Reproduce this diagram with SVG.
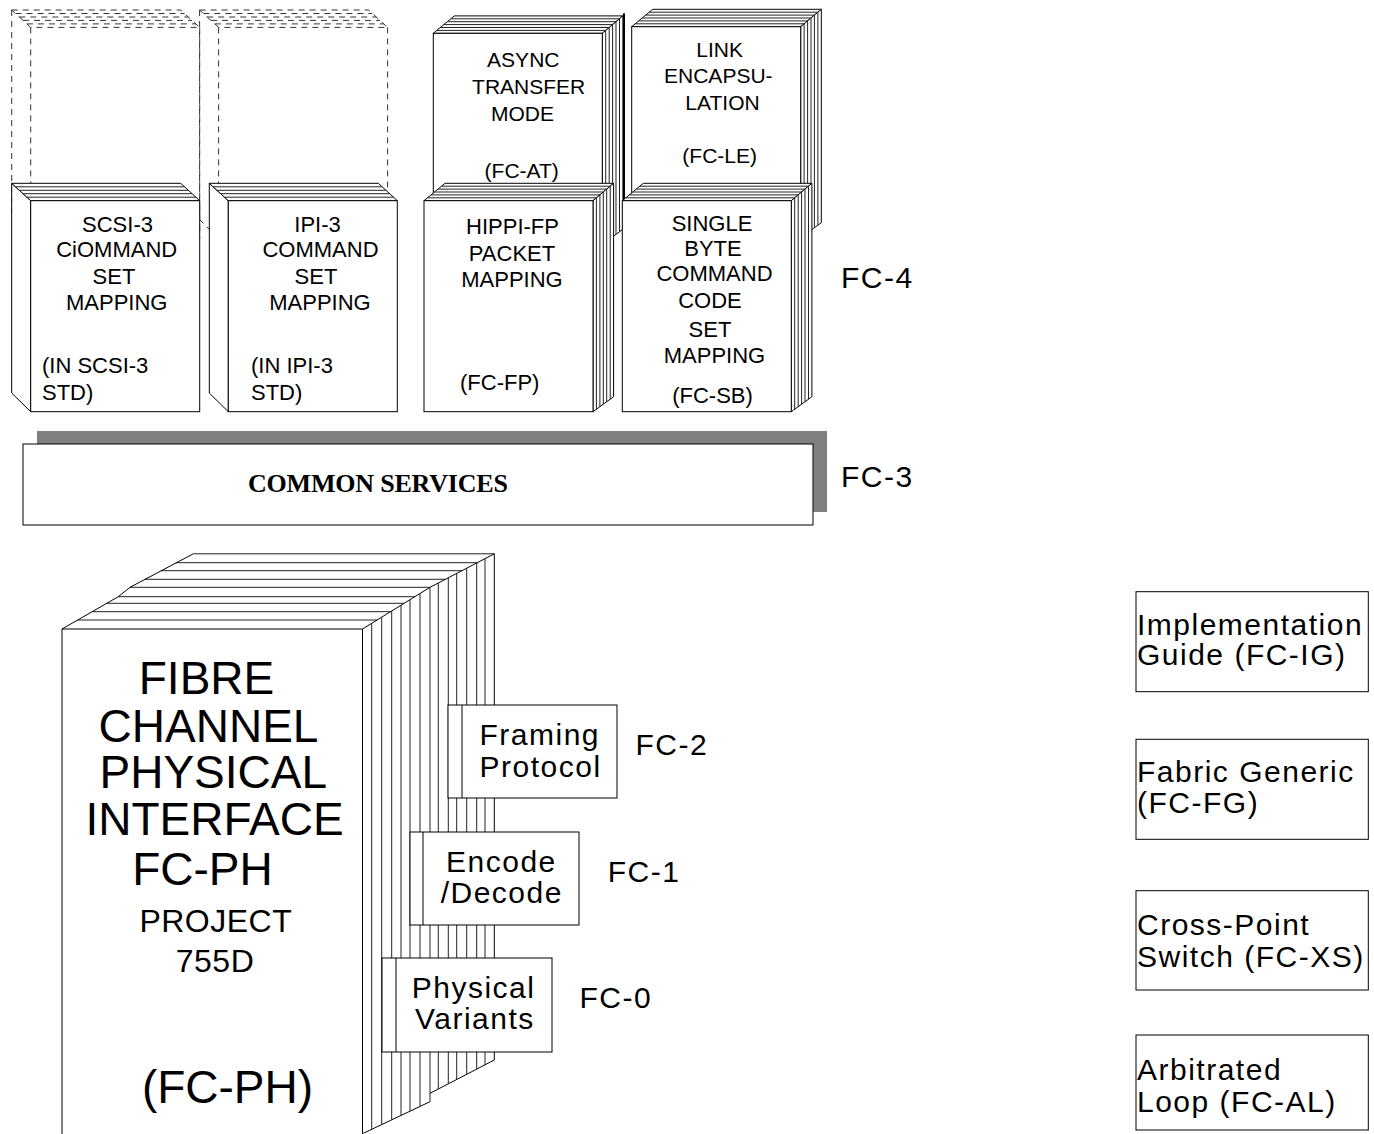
<svg xmlns="http://www.w3.org/2000/svg" xmlns:xlink="http://www.w3.org/1999/xlink" width="1374" height="1134" viewBox="0 0 1374 1134">
<style>
.edge{fill:#fff;stroke:#000;stroke-width:1}
.pg{fill:none;stroke:#222;stroke-width:1}
.ghost{fill:none;stroke:#333;stroke-width:1;stroke-dasharray:6 5}
.t{font-family:"Liberation Sans",Arial,sans-serif;fill:#000}
.sm{font-size:22px}
.up{font-size:21px}
.mid{text-anchor:middle}
.lab{font-size:30px;letter-spacing:1.5px}
.big{font-size:46px;text-anchor:middle}
.proj{font-size:32px;text-anchor:middle;letter-spacing:0.5px}
.box{fill:#fff;stroke:#000;stroke-width:1}
</style>
<defs>
  <g id="bookR">
    <polygon class="edge" points="0,0 21,-17.4 189.6,-17.4 169,0"/>
    <polygon class="edge" points="169,0 189.6,-17.4 189.6,196 169,211"/>
    <rect class="edge" x="0" y="0" width="169" height="211"/>
    <path class="pg" d="M172.4,-2.9V208.5M175.9,-5.8V206M179.3,-8.7V203.5M182.7,-11.6V201M186.2,-14.5V198.5M3.5,-2.9H172.4M7,-5.8H175.9M10.5,-8.7H179.3M14,-11.6H182.7M17.5,-14.5H186.2"/>
  </g>
  <g id="bookL">
    <polygon class="edge" points="-19,-17.4 0,0 0,211 -19,192.3"/>
    <polygon class="edge" points="-19,-17.4 150,-17.4 169,0 0,0"/>
    <rect class="edge" x="0" y="0" width="169" height="211"/>
    <path class="pg" d="M-15.2,-13.9H153.8M-11.4,-10.4H157.6M-7.6,-7H161.4M-3.8,-3.5H165.2"/>
  </g>
  <g id="ghostL">
    <path class="ghost" d="M-19,-17.4V192.3L0,211M0,0V211M169,0V211M-19,-17.4H150L169,0H0L-19,-17.4"/>
    <path class="ghost" d="M-15.2,-13.9H153.8M-11.4,-10.4H157.6M-7.6,-7H161.4M-3.8,-3.5H165.2"/>
  </g>
</defs>

<g id="connectors"/>

<g id="ghost-scsi"><use xlink:href="#ghostL" x="30.7" y="27.4"/></g>
<g id="ghost-ipi"><use xlink:href="#ghostL" x="218.6" y="27.4"/></g>

<g id="async">
  <use xlink:href="#bookR" x="433.3" y="33.3"/>
  <text class="t up mid" x="523.3" y="66.7">ASYNC</text>
  <text class="t up mid" x="528.7" y="94.3">TRANSFER</text>
  <text class="t up mid" x="522.5" y="121">MODE</text>
  <text class="t up mid" x="521.7" y="178.3">(FC-AT)</text>
</g>
<g id="link">
  <use xlink:href="#bookR" x="631.7" y="26.7"/>
  <text class="t up mid" x="719.7" y="56.7">LINK</text>
  <text class="t up mid" x="718.3" y="83.3">ENCAPSU-</text>
  <text class="t up mid" x="722.5" y="110">LATION</text>
  <text class="t up mid" x="719.7" y="163.3">(FC-LE)</text>
</g>
<line x1="624" y1="13.3" x2="624" y2="201.7" stroke="#000" stroke-width="2"/>

<g id="scsi">
  <use xlink:href="#bookL" x="30.7" y="200.7"/>
  <text class="t sm mid" x="117.5" y="231.7">SCSI-3</text>
  <text class="t sm mid" x="116.7" y="257">CiOMMAND</text>
  <text class="t sm mid" x="114" y="283.5">SET</text>
  <text class="t sm mid" x="116.7" y="310">MAPPING</text>
  <text class="t sm" x="42" y="373">(IN SCSI-3</text>
  <text class="t sm" x="42" y="400">STD)</text>
</g>
<g id="ipi">
  <use xlink:href="#bookL" x="228.3" y="200.7"/>
  <text class="t sm mid" x="317.5" y="231.7">IPI-3</text>
  <text class="t sm mid" x="320.5" y="257">COMMAND</text>
  <text class="t sm mid" x="316" y="283.5">SET</text>
  <text class="t sm mid" x="320" y="310">MAPPING</text>
  <text class="t sm" x="251" y="373">(IN IPI-3</text>
  <text class="t sm" x="251" y="400">STD)</text>
</g>
<g id="hippi">
  <use xlink:href="#bookR" x="424" y="200.7"/>
  <text class="t sm mid" x="512.5" y="234">HIPPI-FP</text>
  <text class="t sm mid" x="512" y="260.7">PACKET</text>
  <text class="t sm mid" x="512" y="286.7">MAPPING</text>
  <text class="t sm" x="460" y="390">(FC-FP)</text>
</g>
<g id="sbcs">
  <use xlink:href="#bookR" x="622.3" y="200.7"/>
  <text class="t sm mid" x="712" y="230.7">SINGLE</text>
  <text class="t sm mid" x="713" y="256">BYTE</text>
  <text class="t sm mid" x="714.5" y="281">COMMAND</text>
  <text class="t sm mid" x="710" y="308.3">CODE</text>
  <text class="t sm mid" x="710" y="336.7">SET</text>
  <text class="t sm mid" x="714.5" y="363.3">MAPPING</text>
  <text class="t sm mid" x="712.5" y="403.3">(FC-SB)</text>
</g>
<g id="fc4"><text class="t lab" x="841" y="288">FC-4</text></g>

<g id="common">
  <rect x="37" y="431" width="790" height="81" fill="#808080"/>
  <rect class="box" x="23" y="444" width="790" height="81"/>
  <text x="248" y="492" font-family="'Liberation Serif','Times New Roman',serif" font-weight="bold" font-size="26" letter-spacing="-0.2">COMMON SERVICES</text>
</g>
<g id="fc3"><text class="t lab" x="841" y="487">FC-3</text></g>

<g id="fcph">
  <polygon fill="#fff" stroke="none" points="62,629 118.3,596.7 130,587.3 193.3,553.8 494.3,553.8 495,1060 430,1093.3 430,1101.7 363.3,1134 62,1134"/>
  <path class="pg" d="M193.3,553.8H494.3M175.8,562.7H477.5M160.9,570.7H462M144.9,579.3H445.4M130,587.3H430M118.3,596.7H414.9M106.8,603.3H404.2M92.2,611.7H390.7M77.7,620H377.3"/>
  <path fill="none" stroke="#000" d="M62,1134V629L118.3,596.7L130,587.3L193.3,553.8M62,629H362.5L430,587.3L494.3,553.8V1060L430,1093.3M362.5,629V1134M363.3,1133.3L430,1101.7"/>
  <path class="pg" d="M371.7,623.5V1129.3M381.7,617.3V1124.6M391.7,611.1V1119.9M401,605.3V1115.5M410,599.7V1111.2M420,593.5V1106.4M430,587.3V1101.7M438.3,583V1089M448.3,577.8V1083.9M456.7,573.5V1079.6M466.7,568.3V1074.5M476.7,563.1V1069.4M485,558.8V1065.1"/>
  <text class="t big" x="206.5" y="693.5">FIBRE</text>
  <text class="t big" x="208.5" y="741.7">CHANNEL</text>
  <text class="t big" x="213.3" y="788.3">PHYSICAL</text>
  <text class="t big" x="214.5" y="835">INTERFACE</text>
  <text class="t big" x="202.5" y="885">FC-PH</text>
  <text class="t proj" x="215.8" y="932.3">PROJECT</text>
  <text class="t proj" x="215" y="971.7">755D</text>
  <text class="t big" x="227.5" y="1102.7">(FC-PH)</text>
</g>

<g id="framing">
  <rect class="box" x="448" y="705" width="169" height="93"/>
  <line x1="462" y1="705" x2="462" y2="798" stroke="#000"/>
  <text class="t lab" x="479.5" y="745">Framing</text>
  <text class="t lab" x="479.5" y="776.7">Protocol</text>
</g>
<g id="fc2"><text class="t lab" x="635.5" y="755">FC-2</text></g>
<g id="encode">
  <rect class="box" x="410" y="832" width="169" height="93"/>
  <line x1="423" y1="832" x2="423" y2="925" stroke="#000"/>
  <text class="t lab" x="446" y="871.7">Encode</text>
  <text class="t lab" x="440.7" y="902.7">/Decode</text>
</g>
<g id="fc1"><text class="t lab" x="607.7" y="881.7">FC-1</text></g>
<g id="physical">
  <rect class="box" x="382" y="958" width="170" height="94"/>
  <line x1="396" y1="958" x2="396" y2="1052" stroke="#000"/>
  <text class="t lab" x="411.7" y="998">Physical</text>
  <text class="t lab" x="415" y="1029">Variants</text>
</g>
<g id="fc0"><text class="t lab" x="579.5" y="1008">FC-0</text></g>

<g id="fcig">
  <rect class="box" x="1136" y="591.7" width="232.3" height="100"/>
  <text class="t lab" x="1137" y="635">Implementation</text>
  <text class="t lab" x="1137" y="665">Guide (FC-IG)</text>
</g>
<g id="fcfg">
  <rect class="box" x="1136" y="739.3" width="232.3" height="100"/>
  <text class="t lab" x="1137" y="781.7">Fabric Generic</text>
  <text class="t lab" x="1137" y="813.3">(FC-FG)</text>
</g>
<g id="fcxs">
  <rect class="box" x="1136" y="890.7" width="232.3" height="99.3"/>
  <text class="t lab" x="1137" y="935">Cross-Point</text>
  <text class="t lab" x="1137" y="966.7">Switch (FC-XS)</text>
</g>
<g id="fcal">
  <rect class="box" x="1136" y="1035" width="232.3" height="95"/>
  <text class="t lab" x="1137" y="1080">Arbitrated</text>
  <text class="t lab" x="1137" y="1111.7">Loop (FC-AL)</text>
</g>
</svg>
